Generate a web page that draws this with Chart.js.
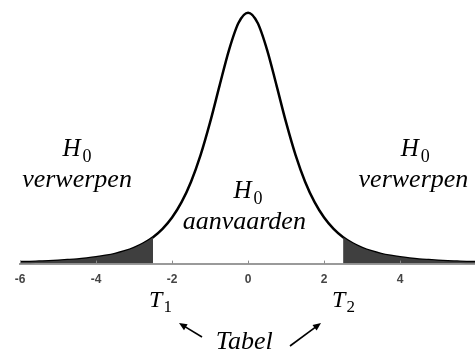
<!DOCTYPE html>
<html>
<head>
<meta charset="utf-8">
<script src="https://cdn.jsdelivr.net/npm/chart.js@4.4.1/dist/chart.umd.min.js"></script>
<style>
  html, body { margin: 0; padding: 0; background: #ffffff; }
  canvas { display: block; }
</style>
</head>
<body>
<canvas id="c" width="475" height="354"></canvas>
<script>
// t-values along the horizontal axis
const tValues = [
  -6, -5.75, -5.5, -5.25, -5, -4.75, -4.5, -4.25, -4, -3.75, -3.5, -3.25,
  -3, -2.75, -2.5, -2.25, -2, -1.75, -1.5, -1.25, -1, -0.75, -0.5, -0.25,
  0, 0.25, 0.5, 0.75, 1, 1.25, 1.5, 1.75, 2, 2.25, 2.5, 2.75,
  3, 3.25, 3.5, 3.75, 4, 4.25, 4.5, 4.75, 5, 5.25, 5.5, 5.75, 6
];

// density of the test statistic at each t-value
const density = [
  0.0022, 0.0025, 0.0030, 0.0035, 0.0042, 0.0051, 0.0061, 0.0075, 0.0092, 0.0114, 0.0142, 0.0180,
  0.0230, 0.0297, 0.0387, 0.0509, 0.0675, 0.0900, 0.1200, 0.1589, 0.2068, 0.2607, 0.3132, 0.3528,
  0.3676, 0.3528, 0.3132, 0.2607, 0.2068, 0.1589, 0.1200, 0.0900, 0.0675, 0.0509, 0.0387, 0.0297,
  0.0230, 0.0180, 0.0142, 0.0114, 0.0092, 0.0075, 0.0061, 0.0051, 0.0042, 0.0035, 0.0030, 0.0025, 0.0022
];

// critical values bounding the rejection regions
const criticalLow = -2.5;
const criticalHigh = 2.5;

// tick labels on the t-axis
const tickLabels = ['-6', '-4', '-2', '0', '2', '4'];

const curvePoints = tValues.map((t, i) => ({ x: t, y: density[i] }));
const leftTail = curvePoints.filter(p => p.x <= criticalLow);
const rightTail = curvePoints.filter(p => p.x >= criticalHigh);

const SERIF = '"Liberation Serif", "Times New Roman", serif';

// small inward tick marks on the axis plus the region / critical-value labels
const labelsPlugin = {
  id: 'regionLabels',
  afterDatasetsDraw(chart) {
    const ctx = chart.ctx;
    const xs = chart.scales.x;
    const area = chart.chartArea;

    // tick marks
    ctx.save();
    ctx.strokeStyle = '#8a8a8a';
    ctx.lineWidth = 1;
    xs.ticks.forEach(tk => {
      const px = Math.round(xs.getPixelForValue(tk.value)) + 0.5;
      ctx.beginPath();
      ctx.moveTo(px, area.bottom - 3);
      ctx.lineTo(px, area.bottom);
      ctx.stroke();
    });
    ctx.restore();

    const hSub = (cx, baseline, sub) => {
      ctx.font = 'italic 25px ' + SERIF;
      const wH = ctx.measureText('H').width;
      ctx.font = '18px ' + SERIF;
      const wS = ctx.measureText(sub).width;
      const left = cx - (wH + 2 + wS) / 2;
      ctx.font = 'italic 25px ' + SERIF;
      ctx.textAlign = 'left';
      ctx.fillText('H', left, baseline);
      ctx.font = '18px ' + SERIF;
      ctx.fillText(sub, left + wH + 2, baseline + 6);
    };
    const tSub = (left, baseline, sub) => {
      ctx.font = 'italic 24px ' + SERIF;
      const wT = ctx.measureText('T').width;
      ctx.textAlign = 'left';
      ctx.fillText('T', left, baseline);
      ctx.font = '17px ' + SERIF;
      ctx.fillText(sub, left + wT + 1, baseline + 5);
    };
    const word = (text, cx, baseline) => {
      ctx.font = 'italic 26px ' + SERIF;
      ctx.textAlign = 'center';
      ctx.fillText(text, cx, baseline);
    };

    ctx.save();
    ctx.fillStyle = '#000';
    ctx.textBaseline = 'alphabetic';

    // rejection region, left
    hSub(xs.getPixelForValue(-4.5), 156, '0');
    word('verwerpen', xs.getPixelForValue(-4.5), 187);
    // acceptance region
    hSub(xs.getPixelForValue(0), 198, '0');
    word('aanvaarden', xs.getPixelForValue(-0.1), 229);
    // rejection region, right
    hSub(xs.getPixelForValue(4.4), 156, '0');
    word('verwerpen', xs.getPixelForValue(4.35), 187);

    // critical values
    tSub(xs.getPixelForValue(criticalLow) - 4, 307, '1');
    tSub(xs.getPixelForValue(criticalHigh) - 11, 307, '2');
    word('Tabel', xs.getPixelForValue(-0.1), 349);

    // arrows pointing from the table label to the critical values
    const arrow = (x0, y0, x1, y1) => {
      const ang = Math.atan2(y1 - y0, x1 - x0);
      const hl = 8, hw = 3.5;
      ctx.strokeStyle = '#000';
      ctx.lineWidth = 1.6;
      ctx.beginPath();
      ctx.moveTo(x0, y0);
      ctx.lineTo(x1 - Math.cos(ang) * hl * 0.8, y1 - Math.sin(ang) * hl * 0.8);
      ctx.stroke();
      ctx.beginPath();
      ctx.moveTo(x1, y1);
      ctx.lineTo(x1 - Math.cos(ang) * hl + Math.sin(ang) * hw, y1 - Math.sin(ang) * hl - Math.cos(ang) * hw);
      ctx.lineTo(x1 - Math.cos(ang) * hl - Math.sin(ang) * hw, y1 - Math.sin(ang) * hl + Math.cos(ang) * hw);
      ctx.closePath();
      ctx.fill();
    };
    arrow(202, 337, 179, 323);
    arrow(290, 346, 321, 323);

    ctx.restore();
  }
};

new Chart(document.getElementById('c'), {
  type: 'line',
  data: {
    datasets: [
      {
        data: leftTail,
        borderWidth: 0,
        pointRadius: 0,
        fill: 'origin',
        backgroundColor: '#3f3f3f',
        cubicInterpolationMode: 'monotone'
      },
      {
        data: rightTail,
        borderWidth: 0,
        pointRadius: 0,
        fill: 'origin',
        backgroundColor: '#3f3f3f',
        cubicInterpolationMode: 'monotone'
      },
      {
        data: curvePoints,
        borderColor: '#000000',
        borderWidth: 2.5,
        pointRadius: 0,
        fill: false,
        cubicInterpolationMode: 'monotone'
      }
    ]
  },
  options: {
    responsive: false,
    animation: false,
    devicePixelRatio: 1,
    layout: { padding: { left: 20, right: 0, top: 11, bottom: 58 } },
    plugins: { legend: { display: false }, tooltip: { enabled: false } },
    scales: {
      x: {
        type: 'linear',
        min: -6,
        max: 5.97,
        grid: { display: true, drawOnChartArea: false, drawTicks: false },
        border: { display: true, color: '#9a9a9a', width: 2 },
        ticks: {
          stepSize: 2,
          includeBounds: false,
          padding: 9,
          color: '#444444',
          font: { family: '"Liberation Sans", Arial, sans-serif', size: 12, weight: 'bold' },
          callback: (v) => tickLabels.includes(String(v)) ? String(v) : ''
        }
      },
      y: {
        display: false,
        min: 0,
        max: 0.37
      }
    }
  },
  plugins: [labelsPlugin]
});
</script>
</body>
</html>
